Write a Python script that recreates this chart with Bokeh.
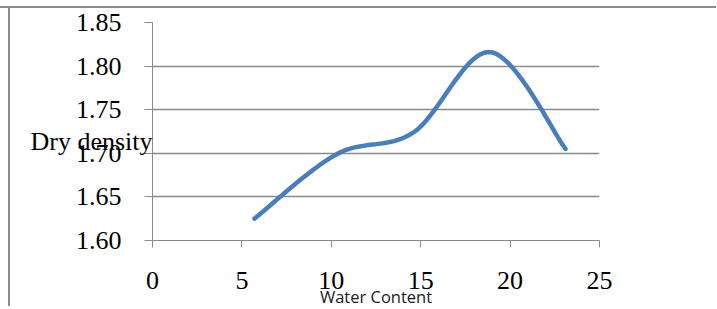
import numpy as np
from bokeh.plotting import figure
from bokeh.models import Range1d, FixedTicker, LinearAxis, NumeralTickFormatter
from bokeh.embed import file_html
from bokeh.resources import INLINE

# ---- data ----
water_content = [5.7, 10.3, 14.6, 18.9, 23.1]
dry_density = [1.625, 1.699, 1.724, 1.816, 1.705]
x_ticks = [0, 5, 10, 15, 20, 25]
y_ticks = [1.60, 1.65, 1.70, 1.75, 1.80, 1.85]
x_title = "Water Content"
y_title = "Dry density"
y_title_at = 1.7138  # vertical place of the y title, in axis units


def smooth(xs, ys, n=40):
    """Excel-like smoothed line (Catmull-Rom / Bezier through the points)."""
    P = np.column_stack([xs, ys]).astype(float)
    ext = np.vstack([P[0], P, P[-1]])
    t = np.linspace(0, 1, n)[:, None]
    out = []
    for i in range(len(P) - 1):
        p0, p1, p2, p3 = ext[i], ext[i + 1], ext[i + 2], ext[i + 3]
        b1 = p1 + (p2 - p0) / 6.0
        b2 = p2 - (p3 - p1) / 6.0
        seg = (1 - t) ** 3 * p1 + 3 * (1 - t) ** 2 * t * b1 + 3 * (1 - t) * t ** 2 * b2 + t ** 3 * p2
        out.append(seg if i == 0 else seg[1:])
    return np.vstack(out)


curve = smooth(water_content, dry_density)

GRID = "#8a8a8a"
BORDER = "#8c8c8c"
SERIF = "Liberation Serif"

p = figure(
    frame_width=447, frame_height=218,
    x_range=Range1d(0, 25), y_range=Range1d(1.60, 1.85),
    output_backend="svg", toolbar_location=None,
    min_border_left=152, min_border_right=117,
    min_border_top=22, min_border_bottom=68,
)
p.outline_line_color = None
p.background_fill_color = "white"
p.border_fill_color = None
p.styles = {
    "background-color": "white",
    "background-image": f"linear-gradient({BORDER}, {BORDER}), linear-gradient({BORDER}, {BORDER})",
    "background-position": "0px 6px, 8px 6px",
    "background-size": "100% 2px, 2px 300px",
    "background-repeat": "no-repeat",
}

p.line(curve[:, 0], curve[:, 1], line_color="#4a7ebb", line_width=4.5, line_cap="round", line_join="round")

# x axis
xa = p.xaxis[0]
xa.ticker = FixedTicker(ticks=x_ticks)
xa.minor_tick_line_color = None
xa.major_tick_in = 0
xa.major_tick_out = 7
xa.axis_line_color = GRID
xa.major_tick_line_color = GRID
xa.major_label_text_font = SERIF
xa.major_label_text_font_size = "26px"
xa.major_label_text_color = "black"
xa.major_label_standoff = 24
xa.axis_label = x_title
xa.axis_label_text_font = "Open Sans"
xa.axis_label_text_font_style = "normal"
xa.axis_label_text_font_size = "16.5px"
xa.axis_label_text_color = "#1a1a1a"
xa.axis_label_standoff = -7

# y axis
ya = p.yaxis[0]
ya.ticker = FixedTicker(ticks=y_ticks)
ya.formatter = NumeralTickFormatter(format="0.00")
ya.minor_tick_line_color = None
ya.major_tick_in = 0
ya.major_tick_out = 8
ya.axis_line_color = GRID
ya.major_tick_line_color = GRID
ya.major_label_text_font = SERIF
ya.major_label_text_font_size = "26px"
ya.major_label_text_color = "black"
ya.major_label_standoff = 23

# y title drawn as a horizontal label (second, invisible axis with one labelled tick)
ta = LinearAxis(
    ticker=FixedTicker(ticks=[y_title_at]),
    major_label_overrides={y_title_at: y_title},
    axis_line_color=None, major_tick_line_color=None, minor_tick_line_color=None,
    major_tick_in=0, major_tick_out=0,
    major_label_text_font=SERIF, major_label_text_font_size="26px",
    major_label_text_color="black", major_label_standoff=-80,
)
p.add_layout(ta, "left")

p.xgrid.visible = False
p.ygrid.grid_line_color = GRID
p.ygrid.grid_line_width = 1.3

open("out.html", "w").write(file_html(p, INLINE))
